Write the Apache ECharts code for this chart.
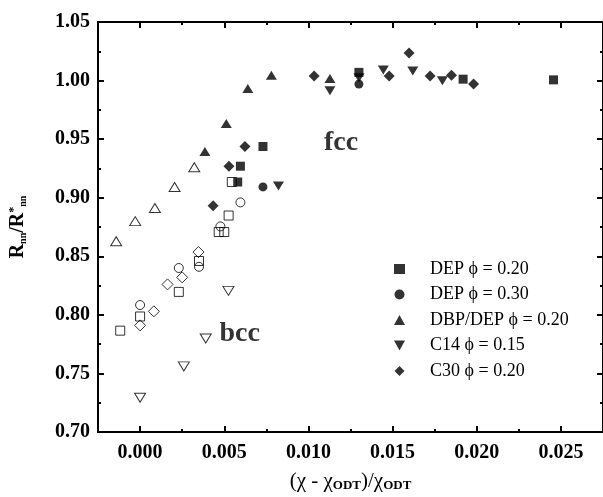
<!DOCTYPE html>
<html><head><meta charset="utf-8">
<script src="https://cdn.jsdelivr.net/npm/echarts@6/dist/echarts.min.js"></script>
<style>html,body{margin:0;padding:0;background:#fff;overflow:hidden}#c{width:603px;height:497px}</style>
</head><body><div id="c"></div>
<script>
// ---- data ----
const seriesNames = ['DEP \u03D5 = 0.20','DEP \u03D5 = 0.30','DBP/DEP \u03D5 = 0.20','C14 \u03D5 = 0.15','C30 \u03D5 = 0.20'];
// DEP phi=0.20 (squares)
const dep20FilledX = [0.0058, 0.00596, 0.0073, 0.0130, 0.01919, 0.02456];
const dep20FilledY = [0.9134, 0.9269, 0.9437, 1.007, 1.0012, 1.0006];
const dep20OpenX = [-0.00118, 0.0000, 0.0023, 0.0035, 0.00467, 0.0050, 0.00526, 0.00545];
const dep20OpenY = [0.7865, 0.7986, 0.8196, 0.846, 0.8707, 0.8707, 0.8848, 0.9134];
// DEP phi=0.30 (circles)
const dep30FilledX = [0.0073, 0.0130];
const dep30FilledY = [0.9092, 0.9970];
const dep30OpenX = [0.0000, 0.0023, 0.0035, 0.00477, 0.00596];
const dep30OpenY = [0.8084, 0.8400, 0.8410, 0.8755, 0.8960];
// DBP/DEP phi=0.20 (up triangles)
const dbpFilledX = [0.00385, 0.00512, 0.0064, 0.0078, 0.01128];
const dbpFilledY = [0.9395, 0.9633, 0.9933, 1.0045, 1.0018];
const dbpOpenX = [-0.00142, -0.00029, 0.00088, 0.00205, 0.00322];
const dbpOpenY = [0.8629, 0.8800, 0.8912, 0.9092, 0.9260];
// C14 phi=0.15 (down triangles)
const c14FilledX = [0.00822, 0.01128, 0.0130, 0.01445, 0.0162, 0.01796];
const c14FilledY = [0.9100, 0.9913, 1.0025, 1.0090, 1.0082, 0.9998];
const c14OpenX = [0.0000, 0.0026, 0.0039, 0.00525];
const c14OpenY = [0.7293, 0.7560, 0.7798, 0.8205];
// C30 phi=0.20 (diamonds)
const c30FilledX = [0.00434, 0.00528, 0.00623, 0.01034, 0.0148, 0.01598, 0.01723, 0.0185, 0.01981];
const c30FilledY = [0.8932, 0.9269, 0.9437, 1.0040, 1.0040, 1.0236, 1.0040, 1.0045, 0.9970];
const c30OpenX = [0.0000, 0.00082, 0.00163, 0.0025, 0.00347];
const c30OpenY = [0.7910, 0.8030, 0.8260, 0.8320, 0.8536];
// annotations
const annoText = ['fcc','bcc'];
const annoX = [0.01194, 0.00592];
const annoY = [0.9465, 0.7838];
// axes
const xMajor = [0, 0.005, 0.010, 0.015, 0.020, 0.025];
const xMinor = [-0.0025, 0.0025, 0.0075, 0.0125, 0.0175, 0.0225];

// ---- build ----
const serif = '"Liberation Serif","Times New Roman",serif';
function mk(fx, fy, ox, oy){
  const d = [];
  for (let i=0;i<ox.length;i++) d.push({value:[ox[i],oy[i]], itemStyle:{color:'rgba(255,255,255,0)', borderColor:'#000', borderWidth:1}});
  for (let i=0;i<fx.length;i++) d.push([fx[i],fy[i]]);
  return d;
}
const symbols = ['rect','circle','path://M0,-1 L1,0.8 L-1,0.8 Z','path://M-1,-0.8 L1,-0.8 L0,1 Z','path://M0,-1 L1,0 L0,1 L-1,0 Z'];
const sizes = [9, 9, [11,9], [11,9], [11,11]];
const datasets = [
  mk(dep20FilledX,dep20FilledY,dep20OpenX,dep20OpenY),
  mk(dep30FilledX,dep30FilledY,dep30OpenX,dep30OpenY),
  mk(dbpFilledX,dbpFilledY,dbpOpenX,dbpOpenY),
  mk(c14FilledX,c14FilledY,c14OpenX,c14OpenY),
  mk(c30FilledX,c30FilledY,c30OpenX,c30OpenY)
];
const series = seriesNames.map((n,i)=>({
  name:n, type:'scatter', xAxisIndex:0, yAxisIndex:0,
  symbol:symbols[i], symbolSize:sizes[i], data:datasets[i],
  itemStyle:{color:'#000'}, emphasis:{disabled:true}, animation:false
}));
series.push({
  type:'scatter', xAxisIndex:0, yAxisIndex:0, symbolSize:0, silent:true, animation:false,
  data: annoText.map((t,i)=>({value:[annoX[i],annoY[i]], name:t})),
  label:{show:true, position:'inside', formatter:p=>p.name, color:'#000', fontFamily:serif, fontWeight:'bold', fontSize:28}
});

const common = {min:-0.0025, max:0.0275, type:'value', splitLine:{show:false}};
const lineStyle = {color:'#000', width:2};
const xAxes = [
  Object.assign({}, common, {position:'bottom', axisLine:{lineStyle, onZero:false},
    axisTick:{inside:true, length:6, customValues:xMajor, lineStyle:{color:'#000',width:2}},
    axisLabel:{customValues:xMajor, formatter:v=>v.toFixed(3), color:'#000', fontFamily:serif, fontWeight:'bold', fontSize:20, margin:11},
    name:'(\u03C7 - \u03C7{sub|ODT})/\u03C7{sub|ODT}', nameLocation:'middle', nameGap:38,
    nameTextStyle:{color:'#000', fontFamily:serif, fontSize:21, rich:{sub:{fontFamily:serif, fontWeight:'bold', fontSize:13, padding:[9,0,0,0]}}}}),
  Object.assign({}, common, {position:'bottom', axisLine:{show:false},
    axisTick:{inside:true, length:3, customValues:xMinor, lineStyle:{color:'#000',width:2}}, axisLabel:{show:false}}),
  Object.assign({}, common, {position:'top', axisLine:{lineStyle, onZero:false},
    axisTick:{inside:true, length:6, customValues:xMajor, lineStyle:{color:'#000',width:2}}, axisLabel:{show:false}}),
  Object.assign({}, common, {position:'top', axisLine:{show:false},
    axisTick:{inside:true, length:3, customValues:xMinor, lineStyle:{color:'#000',width:2}}, axisLabel:{show:false}})
];
const ycommon = {type:'value', min:0.70, max:1.05, interval:0.05, splitLine:{show:false}};
const yAxes = [
  Object.assign({}, ycommon, {position:'left', axisLine:{show:true, lineStyle, onZero:false},
    axisTick:{inside:true, length:6, lineStyle:{color:'#000',width:2}},
    minorTick:{show:true, splitNumber:2, length:3, lineStyle:{color:'#000',width:2}},
    axisLabel:{formatter:v=>v.toFixed(2), color:'#000', fontFamily:serif, fontWeight:'bold', fontSize:20, margin:8},
    name:'R{sub|nn}/R{sup|*}{sub2|nn}', nameLocation:'middle', nameGap:70, nameRotate:90,
    nameTextStyle:{color:'#000', fontFamily:serif, fontWeight:'bold', fontSize:20,
      rich:{sub:{fontFamily:serif, fontWeight:'bold', fontSize:10, padding:[10,0,0,0]},
            sub2:{fontFamily:serif, fontWeight:'bold', fontSize:10, padding:[10,0,0,0]},
            sup:{fontFamily:serif, fontWeight:'bold', fontSize:12, padding:[0,0,8,0]}}}}),
  Object.assign({}, ycommon, {position:'right', axisLine:{show:true, lineStyle, onZero:false},
    axisTick:{inside:true, length:6, lineStyle:{color:'#000',width:2}},
    minorTick:{show:true, splitNumber:2, length:3, lineStyle:{color:'#000',width:2}},
    axisLabel:{show:false}})
];

const chart = echarts.init(document.getElementById('c'), null, {renderer:'canvas'});
chart.setOption({
  animation:false,
  backgroundColor:'#fff',
  grid:{left:98, right:-2, top:22, bottom:60, containLabel:false},
  xAxis:xAxes, yAxis:yAxes,
  legend:{data:seriesNames, orient:'vertical', left:389, top:255, itemGap:7.5, itemWidth:11, itemHeight:10,
    textStyle:{color:'#000', fontFamily:serif, fontSize:18, padding:[0,0,0,20]}, selectedMode:false},
  series:series
});
</script></body></html>
